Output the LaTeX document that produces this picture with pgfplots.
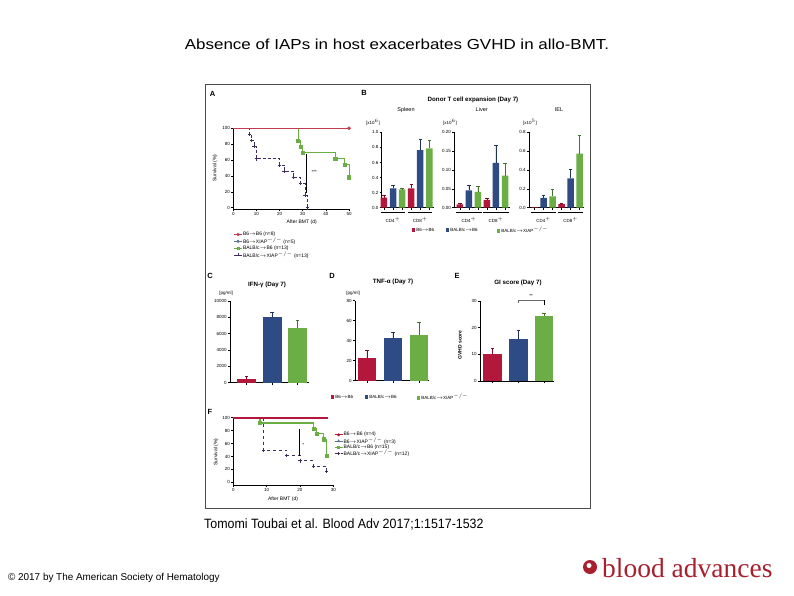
\documentclass[border=0pt]{standalone}
\usepackage{fontspec}
\setmainfont{Liberation Sans}
\newfontfamily\seriffont{Liberation Serif}
\usepackage{pgfplots}
\pgfplotsset{compat=1.18}
\definecolor{cred}{HTML}{B3173B}
\definecolor{cblue}{HTML}{2E4B85}
\definecolor{cgreen}{HTML}{6BAE45}
\definecolor{cpurp}{HTML}{3E2C5B}
\definecolor{cline}{HTML}{C43A4E}
\definecolor{cgray}{HTML}{5A7198}
\definecolor{logored}{HTML}{A8202E}
\newcommand{\tk}{\fontsize{4.5}{5}\selectfont}
\newcommand{\lb}{\fontsize{5}{6}\selectfont}
\newcommand{\ttl}{\fontsize{6.2}{7}\selectfont\bfseries}
\newcommand{\pl}{\fontsize{7.5}{8}\selectfont\bfseries}
\newcommand{\sq}[1]{\textcolor{#1}{\rule{3.5pt}{3.5pt}}}
\pgfplotsset{
  prism/.style={scale only axis, anchor=south west, clip=false,
    axis x line*=bottom, axis y line*=left,
    axis line style={-, line width=0.5pt},
    tick align=outside, major tick length=2pt,
    tick style={black, line width=0.45pt},
    ticklabel style={font=\tk, inner sep=1.2pt},
    /pgf/number format/assume math mode=true,
    /pgf/number format/1000 sep={},
    scaled y ticks=false},
  mybar/.style 2 args={ybar, bar width=#2, bar shift=0pt, fill=#1, draw=none,
    error bars/.cd, y dir=plus, y explicit,
    error bar style={#1!65!black, line width=0.55pt},
    error mark options={rotate=90, mark size=1.6pt, #1!65!black, line width=0.55pt}},
  legend image code/.code={\draw[mark repeat=2,mark phase=2,#1] plot coordinates {(0pt,0pt) (4pt,0pt) (8pt,0pt)};},
}
\begin{document}
\begin{tikzpicture}[x=1pt,y=1pt]
\path[use as bounding box, fill=white] (0,0) rectangle (794,595);
% title and footer
\node[font=\fontsize{14.5}{16}\selectfont, xscale=1.17] at (397,551) {Absence of IAPs in host exacerbates GVHD in allo-BMT.};
\node[font=\fontsize{13.5}{15}\selectfont, anchor=west, inner sep=0pt, xscale=0.92] at (204,71) {Tomomi Toubai et al. Blood Adv 2017;1:1517-1532};
\node[font=\fontsize{10}{11}\selectfont, anchor=west, inner sep=0pt, xscale=0.99] at (8,17) {© 2017 by The American Society of Hematology};
\fill[logored] (590,28) circle (7);
\fill[white] (589,29.5) circle (2.5);
\node[font=\seriffont\fontsize{27.5}{30}\selectfont, text=logored, anchor=west, inner sep=0pt] at (602,27) {blood advances};
% frame
\draw[line width=0.6pt, black!70] (205,87) rectangle (590,511);
% panel letters
\node[font=\pl] at (212.7,500.7) {A};
\node[font=\pl] at (364,501.7) {B};
\node[font=\pl] at (210,319) {C};
\node[font=\pl] at (332,319) {D};
\node[font=\pl] at (457,319) {E};
\node[font=\pl] at (210,183) {F};

% ---------------- Panel A ----------------
\begin{axis}[prism, at={(233.3pt,385.7pt)}, width=115.7pt, height=81pt,
  xmin=0, xmax=50, ymin=-2, ymax=100, xtick={0,10,...,50}, ytick={0,20,...,100},
  legend style={at={(axis description cs:0.002,-0.27)}, anchor=north west, draw=none, fill=none,
    font=\lb, inner sep=0pt, row sep=-0.6pt, nodes={inner sep=0.6pt}},
  legend cell align=left]
\addplot[cgray, line width=0.7pt, forget plot] coordinates {(0,100) (50,100)};
\addplot[cpurp, densely dashed, line width=0.8pt, const plot, forget plot] coordinates {(0,100) (7,92.3) (8,84.6) (9,76.9) (10,61.5) (20,53.8) (22,46.2) (26,38.5) (29,30.8) (31,15.4) (32,0)};
\addplot[cpurp, only marks, mark=+, mark size=1.8pt, mark options={line width=0.8pt}, forget plot] coordinates {(7,92.3) (8,84.6) (9,76.9) (10,61.5) (20,53.8) (22,46.2) (26,38.5) (29,30.8) (31,15.4) (32,0)};
\addplot[cgreen, line width=1pt, const plot, forget plot] coordinates {(0,100) (28,84.6) (29,76.9) (30,69.2) (44,61.5) (48,53.8) (50,38.5)};
\addplot[cgreen, only marks, mark=square*, mark size=1.6pt, forget plot] coordinates {(28,84.6) (29,76.9) (30,69.2) (44,61.5) (48,53.8) (50,38.5)};
\addplot[cline, line width=0.8pt, forget plot] coordinates {(0,100) (50,100)};
\addplot[cline, only marks, mark=*, mark size=1.6pt, forget plot] coordinates {(50,100)};
\draw[line width=0.5pt] (axis cs:31.5,68) -- (axis cs:31.5,18);
\node[font=\tk, anchor=west] at (axis cs:32.3,45) {***};
\addlegendimage{cline, line width=0.7pt, mark=*, mark size=1.2pt}
\addlegendentry{B6$\rightarrow$B6 (n=8)}
\addlegendimage{cgray, line width=0.7pt, mark=o, mark size=1.2pt}
\addlegendentry{B6$\rightarrow$XIAP$^{-/-}$ (n=5)}
\addlegendimage{cgreen, line width=0.7pt, mark=square*, mark size=1.2pt}
\addlegendentry{BALB/c$\rightarrow$B6 (n=13)}
\addlegendimage{cpurp, densely dashed, line width=0.7pt, mark=+, mark size=1.5pt, mark options={solid}}
\addlegendentry{BALB/c$\rightarrow$XIAP$^{-/-}$ (n=13)}
\end{axis}
\node[font=\lb] at (301.7,372.5) {After BMT (d)};
\node[font=\lb, rotate=90] at (215,427) {Survival (\%)};

% ---------------- Panel B ----------------
\node[font=\ttl] at (473,495) {Donor T cell expansion (Day 7)};
\node[font=\fontsize{5.5}{6}\selectfont] at (406,485) {Spleen};
\node[font=\fontsize{5.5}{6}\selectfont] at (481.7,485) {Liver};
\node[font=\fontsize{5.5}{6}\selectfont] at (559,485) {IEL};
\node[font=\tk] at (373,473) {[x10$^{6}$]};
\node[font=\tk] at (450,473) {[x10$^{6}$]};
\node[font=\tk] at (530,473) {[x10$^{5}$]};

\begin{axis}[prism, at={(381.7pt,387.3pt)}, width=52.1pt, height=75.4pt,
  xmin=0.75, xmax=6.5, ymin=0, ymax=1, xtick={1,...,6}, xticklabels={},
  ytick={0,0.2,0.4,0.6,0.8,1.0},
  yticklabel style={/pgf/number format/.cd, fixed, fixed zerofill, precision=1}]
\addplot[mybar={cred}{6.5pt}] coordinates {(1,0.133) +- (0,0.027) (4,0.257) +- (0,0.048)};
\addplot[mybar={cblue}{6.5pt}] coordinates {(2,0.257) +- (0,0.043) (5,0.765) +- (0,0.145)};
\addplot[mybar={cgreen}{6.5pt}] coordinates {(3,0.243) +- (0,0.010) (6,0.788) +- (0,0.100)};
\draw[line width=0.45pt] ([yshift=-4.5pt]axis cs:0.65,0) -- ([yshift=-4.5pt]axis cs:3.35,0);
\draw[line width=0.45pt] ([yshift=-4.5pt]axis cs:3.65,0) -- ([yshift=-4.5pt]axis cs:6.35,0);
\node[font=\tk] at ([yshift=-12pt]axis cs:2,0) {CD4$^{+}$};
\node[font=\tk] at ([yshift=-12pt]axis cs:5,0) {CD8$^{+}$};
\end{axis}

\begin{axis}[prism, at={(454.3pt,387.3pt)}, width=55.2pt, height=75.4pt,
  xmin=0.37, xmax=6.5, ymin=0, ymax=0.2, xtick={1,...,6}, xticklabels={},
  ytick={0,0.05,0.1,0.15,0.2},
  yticklabel style={/pgf/number format/.cd, fixed, fixed zerofill, precision=2}]
\addplot[mybar={cred}{6.5pt}] coordinates {(1,0.009) +- (0,0.002) (4,0.021) +- (0,0.003)};
\addplot[mybar={cblue}{6.5pt}] coordinates {(2,0.046) +- (0,0.014) (5,0.119) +- (0,0.047)};
\addplot[mybar={cgreen}{6.5pt}] coordinates {(3,0.042) +- (0,0.014) (6,0.085) +- (0,0.033)};
\draw[line width=0.45pt] ([yshift=-4.5pt]axis cs:0.6,0) -- ([yshift=-4.5pt]axis cs:3.4,0);
\draw[line width=0.45pt] ([yshift=-4.5pt]axis cs:3.6,0) -- ([yshift=-4.5pt]axis cs:6.4,0);
\node[font=\tk] at ([yshift=-12pt]axis cs:2,0) {CD4$^{+}$};
\node[font=\tk] at ([yshift=-12pt]axis cs:5,0) {CD8$^{+}$};
\end{axis}

\begin{axis}[prism, at={(529pt,387.3pt)}, width=55.2pt, height=75.4pt,
  xmin=0.37, xmax=6.5, ymin=0, ymax=0.8, xtick={1,...,6}, xticklabels={},
  ytick={0,0.2,0.4,0.6,0.8},
  yticklabel style={/pgf/number format/.cd, fixed, fixed zerofill, precision=1}]
\addplot[mybar={cred}{6.5pt}] coordinates {(1,0.005) +- (0,0.002) (4,0.039) +- (0,0.012)};
\addplot[mybar={cblue}{6.5pt}] coordinates {(2,0.104) +- (0,0.030) (5,0.312) +- (0,0.092)};
\addplot[mybar={cgreen}{6.5pt}] coordinates {(3,0.120) +- (0,0.073) (6,0.574) +- (0,0.190)};
\draw[line width=0.45pt] ([yshift=-4.5pt]axis cs:0.6,0) -- ([yshift=-4.5pt]axis cs:3.4,0);
\draw[line width=0.45pt] ([yshift=-4.5pt]axis cs:3.6,0) -- ([yshift=-4.5pt]axis cs:6.4,0);
\node[font=\tk] at ([yshift=-12pt]axis cs:2,0) {CD4$^{+}$};
\node[font=\tk] at ([yshift=-12pt]axis cs:5,0) {CD8$^{+}$};
\end{axis}
\node[font=\tk, anchor=west] at (408,365) {\sq{cred}~B6$\rightarrow$B6};
\node[font=\tk, anchor=west] at (442,365) {\sq{cblue}~BALB/c$\rightarrow$B6};
\node[font=\tk, anchor=west] at (493,365) {\sq{cgreen}~BALB/c$\rightarrow$XIAP$^{-/-}$};

% ---------------- Panel C ----------------
\node[font=\ttl] at (267,310) {IFN-γ (Day 7)};
\node[font=\tk] at (226,302) {[pg/ml]};
\begin{axis}[prism, at={(230pt,212.3pt)}, width=79pt, height=81.7pt,
  xmin=0.353, xmax=3.45, ymin=0, ymax=10000, xtick={1,2,3}, xticklabels={},
  ytick={0,2000,4000,6000,8000,10000}]
\addplot[mybar={cred}{19pt}] coordinates {(1,500) +- (0,320)};
\addplot[mybar={cblue}{19pt}] coordinates {(2,8000) +- (0,600)};
\addplot[mybar={cgreen}{19pt}] coordinates {(3,6730) +- (0,860)};
\end{axis}

% ---------------- Panel D ----------------
\node[font=\ttl] at (393,313) {TNF-α (Day 7)};
\node[font=\tk] at (353,302) {[pg/ml]};
\begin{axis}[prism, at={(355pt,214.3pt)}, width=74.4pt, height=80pt,
  xmin=0.54, xmax=3.4, ymin=0, ymax=80, xtick={1,2,3}, xticklabels={},
  ytick={0,20,40,60,80}]
\addplot[mybar={cred}{18pt}] coordinates {(1,22.3) +- (0,7.7)};
\addplot[mybar={cblue}{18pt}] coordinates {(2,42.3) +- (0,6.0)};
\addplot[mybar={cgreen}{18pt}] coordinates {(3,45.7) +- (0,12.6)};
\end{axis}

% ---------------- Panel E ----------------
\node[font=\ttl] at (518,312) {GI score (Day 7)};
\node[font=\lb\bfseries, rotate=90] at (460,250) {GVHD score};
\begin{axis}[prism, at={(480pt,214pt)}, width=74.3pt, height=80pt,
  xmin=0.515, xmax=3.4, ymin=0, ymax=30, xtick={1,2,3}, xticklabels={},
  ytick={0,10,20,30}]
\addplot[mybar={cred}{18.5pt}] coordinates {(1,10.0) +- (0,2.3)};
\addplot[mybar={cblue}{18.5pt}] coordinates {(2,15.9) +- (0,3.0)};
\addplot[mybar={cgreen}{18.5pt}] coordinates {(3,24.4) +- (0,1.0)};
\draw[line width=0.45pt, black!60] (axis cs:2,29.1) -- (axis cs:2,30.4) -- (axis cs:3,30.4) -- (axis cs:3,29.1);
\draw[line width=0.7pt] (axis cs:3,30.4) -- (axis cs:3,28.4);
\node[font=\tk] at (axis cs:2.5,31.8) {**};
\end{axis}
\node[font=\tk, anchor=west] at (327,198) {\sq{cred}~B6$\rightarrow$B6};
\node[font=\tk, anchor=west] at (361,198) {\sq{cblue}~BALB/c$\rightarrow$B6};
\node[font=\tk, anchor=west] at (413,198) {\sq{cgreen}~BALB/c$\rightarrow$XIAP$^{-/-}$};

% ---------------- Panel F ----------------
\begin{axis}[prism, at={(233.3pt,110pt)}, width=100pt, height=67.3pt,
  xmin=0, xmax=30, ymin=-4.2, ymax=100, xtick={0,10,20,30}, ytick={0,20,...,100},
  legend style={at={(axis description cs:1.007,0.795)}, anchor=north west, draw=none, fill=none,
    font=\lb, inner sep=0pt, row sep=-1.2pt, nodes={inner sep=0.6pt}},
  legend cell align=left]
\addplot[cpurp, dashed, line width=0.6pt, const plot, forget plot] coordinates {(0,100) (9,50) (16,41.7) (20,33.3) (24,25) (28,16.7)};
\addplot[cpurp, only marks, mark=+, mark size=1.8pt, mark options={line width=0.8pt}, forget plot] coordinates {(9,50) (16,41.7) (20,33.3) (24,25) (28,16.7)};
\addplot[cgreen, line width=1.2pt, const plot, forget plot] coordinates {(0,100) (8,91.7) (24,83.3) (25,75) (27,66.7) (28,41.7)};
\addplot[cgreen, only marks, mark=square*, mark size=1.6pt, forget plot] coordinates {(8,91.7) (24,83.3) (25,75) (27,66.7) (28,41.7)};
\addplot[cred, line width=1.6pt, forget plot] coordinates {(0,100) (28.5,100)};
\draw[line width=0.5pt] (axis cs:19.7,82.5) -- (axis cs:19.7,41);
\node[font=\tk] at (axis cs:21,58) {*};
\addlegendimage{cred, line width=0.8pt, mark=*, mark size=1.1pt}
\addlegendentry{B6$\rightarrow$B6 (n=4)}
\addlegendimage{cgray, line width=0.7pt, mark=triangle*, mark size=1.2pt}
\addlegendentry{B6$\rightarrow$XIAP$^{-/-}$ (n=3)}
\addlegendimage{cgreen, line width=0.8pt, mark=square*, mark size=1.2pt}
\addlegendentry{BALB/c$\rightarrow$B6 (n=15)}
\addlegendimage{cpurp, dashed, line width=0.6pt, mark=+, mark size=1.5pt, mark options={solid}}
\addlegendentry{BALB/c$\rightarrow$XIAP$^{-/-}$ (n=12)}
\end{axis}
\node[font=\lb] at (283,96) {After BMT (d)};
\node[font=\lb, rotate=90] at (216,143) {Survival (\%)};
\end{tikzpicture}
\end{document}
